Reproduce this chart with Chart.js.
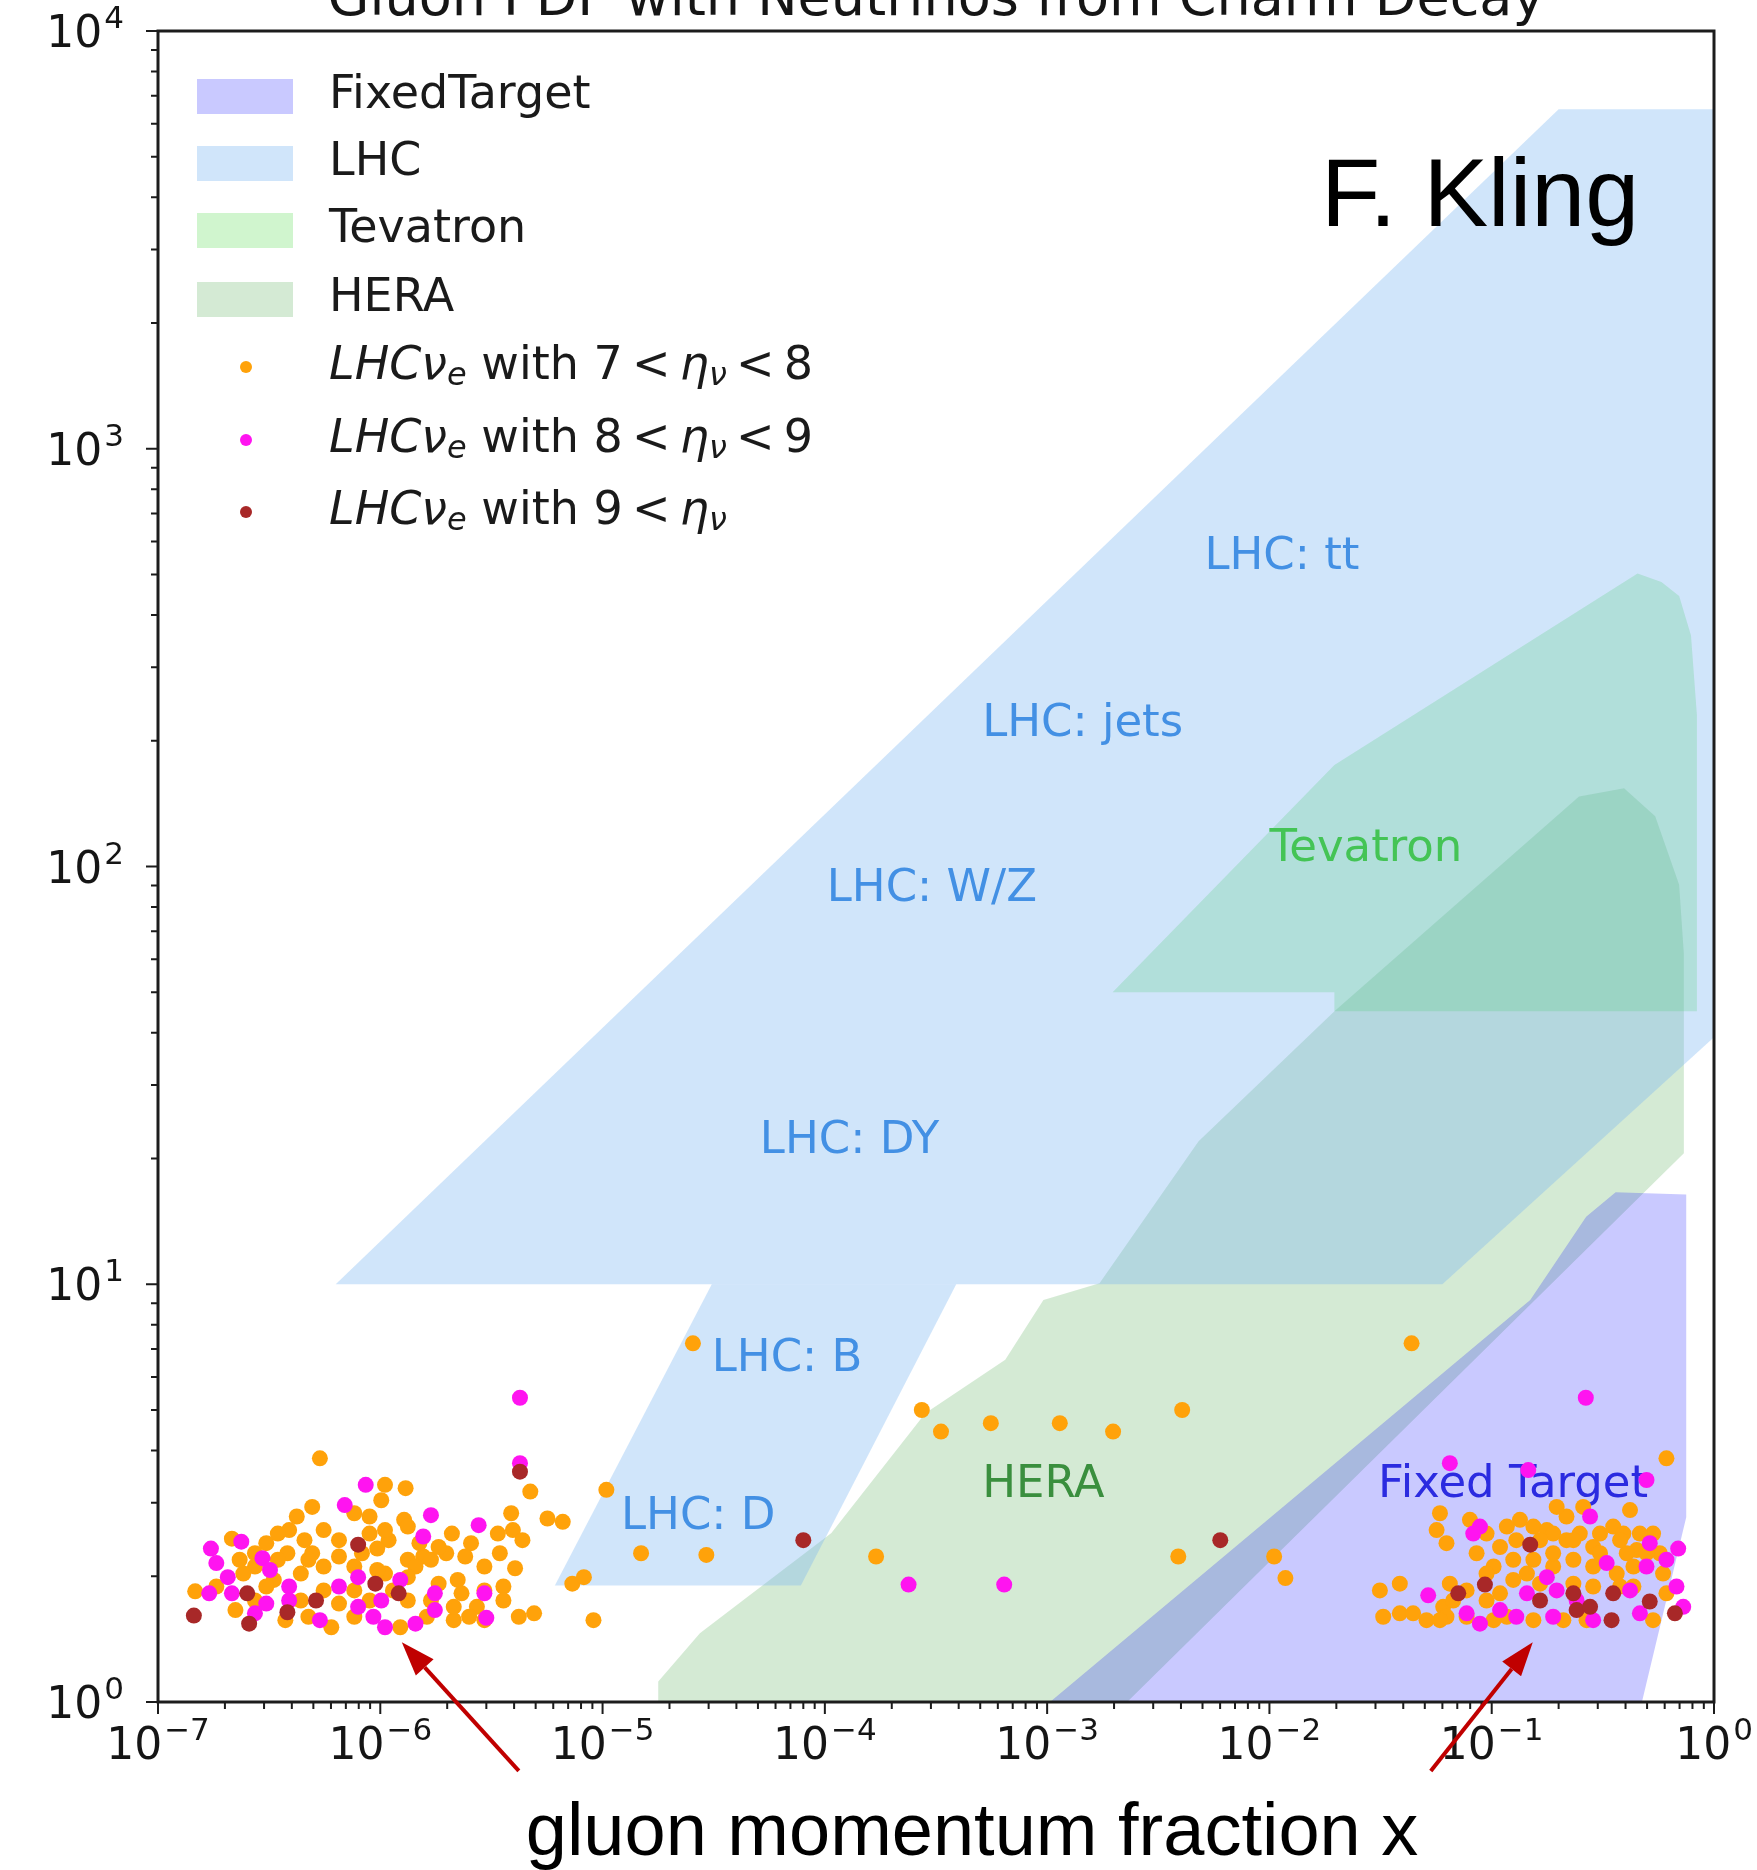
<!DOCTYPE html>
<html>
<head>
<meta charset="utf-8">
<script src="https://cdn.jsdelivr.net/npm/chart.js@4.4.1/dist/chart.umd.min.js"></script>
<style>
  html, body { margin: 0; padding: 0; background: #fff; }
  #wrap { width: 1757px; height: 1870px; position: relative; }
</style>
</head>
<body>
<div id="wrap"><canvas id="pdfChart"></canvas></div>
<script>
// ---- measured regions (x = gluon momentum fraction, y = Q) ----
var fixedTargetX = [1.03e-3, 0.149, 0.266, 0.361, 0.75, 0.75, 0.474];
var fixedTargetY = [1, 9.17, 14.5, 16.6, 16.4, 2.77, 1];

var lhcX = [6.3e-7, 0.06, 1, 1, 0.2];
var lhcY = [10, 10, 39, 6500, 6500];

var lhcHeavyX = [3.1e-5, 3.9e-4, 7.8e-5, 6.1e-6];
var lhcHeavyY = [10, 10, 1.9, 1.9];

var tevatronX = [1.97e-3, 0.0196, 0.453, 0.58, 0.697, 0.788, 0.838, 0.838, 0.0196, 0.0196];
var tevatronY = [50, 175, 503, 480, 444, 357, 230, 45, 45, 50];

var heraX = [1.78e-5, 1.78e-5, 2.74e-5, 4.33e-5, 1.07e-4, 2.83e-4, 6.48e-4, 9.62e-4, 1.72e-3, 4.8e-3, 0.0196, 0.247, 0.394, 0.544, 0.697, 0.732, 0.732, 2.29e-3];
var heraY = [1, 1.12, 1.46, 1.76, 2.54, 4.91, 6.6, 9.17, 10.05, 22, 45, 147, 154, 132, 90.4, 61.7, 20.6, 1];

// ---- neutrino events ----
var eta78X = [5.35e-7, 1.05e-6, 1.30e-6, 1.01e-6, 4.94e-7, 4.21e-7, 7.64e-7, 1.28e-6, 3.89e-7, 2.15e-7,
  3.07e-7, 4.56e-7, 8.95e-7, 1.09e-6, 1.33e-6, 1.56e-6, 2.10e-6, 2.56e-6, 3.38e-6, 3.88e-6,
  3.95e-6, 4.73e-6, 5.65e-6, 6.62e-6, 1.04e-5, 2.55e-5, 1.49e-5, 2.93e-5, 4.04e-6, 7.31e-6,
  8.24e-6, 1.47e-7, 2.73e-7, 3.32e-7, 4.39e-7, 5.56e-7, 6.52e-7, 8.27e-7, 9.69e-7, 1.69e-6,
  1.98e-6, 2.23e-6, 2.32e-6, 2.94e-6, 4.20e-6, 4.92e-6, 9.10e-6, 6.02e-7, 7.64e-7, 1.23e-6,
  1.62e-6, 2.14e-6, 2.72e-6, 2.73e-7, 2.23e-7, 4.39e-7, 1.14e-6, 6.52e-7, 8.95e-7, 3.82e-7,
  1.33e-6, 4.94e-7, 1.33e-6, 1.83e-6, 3.58e-6, 2.42e-7, 7.64e-7, 1.05e-6, 1.44e-6,
  3.46e-7, 5.56e-7, 6.52e-7, 8.95e-7, 1.05e-6, 1.50e-6, 1.83e-6, 2.41e-6, 2.94e-6, 3.45e-6,
  4.36e-6, 2.73e-7, 3.46e-7, 4.75e-7, 5.56e-7, 7.64e-7, 9.69e-7, 1.33e-6, 1.69e-6, 2.14e-6,
  2.51e-6, 2.94e-6, 3.58e-6, 3.74e-7, 4.75e-7, 3.07e-7, 1.83e-7, 2.33e-7,
  2.73e-4, 3.33e-4, 5.58e-4, 1.14e-3, 1.98e-3, 4.05e-3, 1.70e-4, 3.89e-3, 1.05e-2, 1.18e-2,
  0.0436, 0.611, 0.0585, 0.0565, 0.0626, 0.0798, 0.0855, 0.109, 0.134, 0.125,
  0.154, 0.177, 0.217, 0.217, 0.249, 0.286, 0.352, 0.391, 0.419, 0.449,
  0.532, 0.0314, 0.0386, 0.0325, 0.0386, 0.0443, 0.0509, 0.0605, 0.0771, 0.0948,
  0.109, 0.125, 0.154, 0.189, 0.233, 0.286, 0.365, 0.405, 0.590, 0.117,
  0.210, 0.267, 0.570, 0.165, 0.0771, 0.258, 0.196, 0.189, 0.307, 0.434,
  0.129, 0.102, 0.0626,
  0.0948, 0.117, 0.165, 0.189, 0.233, 0.307, 0.378, 0.464, 0.497, 0.144,
  0.0948, 0.0648, 0.233, 0.286, 0.378, 0.434, 0.611, 0.532, 0.154, 0.102,
  0.0671, 0.0585];
var eta78Y = [3.83, 3.31, 3.25, 3.04, 2.93, 2.78, 2.83, 2.73, 2.58, 2.46,
  2.40, 2.44, 2.53, 2.44, 2.63, 2.23, 2.53, 2.40, 2.53, 2.83,
  2.58, 3.19, 2.75, 2.70, 3.22, 7.22, 2.27, 2.25, 2.09, 1.92,
  1.99, 1.84, 2.11, 1.96, 2.03, 2.11, 2.23, 2.27, 2.33, 2.19,
  2.27, 1.96, 1.82, 1.85, 1.60, 1.63, 1.57, 1.51, 1.60, 1.51,
  1.60, 1.57, 1.69, 1.75, 1.66, 1.75, 1.85, 1.72, 1.75, 2.27,
  2.19, 2.27, 1.75, 1.92, 1.89, 2.03, 2.11, 2.03, 2.11,
  2.53, 2.58, 2.44, 2.78, 2.58, 2.40, 2.35, 2.23, 2.11, 2.27,
  2.44, 2.27, 2.19, 2.19, 1.85, 1.85, 2.07, 1.99, 1.75, 1.69,
  1.60, 1.57, 1.75, 1.57, 1.60, 1.89, 1.89, 2.19,
  5.00, 4.44, 4.65, 4.65, 4.44, 5.00, 2.23, 2.23, 2.23, 1.98,
  7.22, 3.83, 2.83, 2.58, 2.40, 2.73, 2.27, 2.35, 2.73, 2.19,
  2.63, 2.58, 2.78, 2.44, 2.53, 2.35, 2.63, 2.53, 2.88, 2.31,
  2.53, 1.85, 1.92, 1.60, 1.63, 1.63, 1.57, 1.69, 1.85, 1.75,
  1.82, 1.96, 2.19, 2.11, 2.19, 2.11, 2.03, 2.27, 2.03, 1.60,
  1.57, 1.57, 2.27, 1.92, 1.60, 2.93, 2.93, 2.53, 2.53, 1.89,
  2.44, 2.11, 1.60,
  2.53, 2.63, 2.44, 2.27, 2.44, 2.27, 2.44, 2.53, 2.27, 2.03,
  2.03, 1.92, 1.92, 1.89, 1.89, 2.11, 1.82, 1.57, 1.57, 1.57,
  1.75, 1.57];

var eta89X = [4.25e-6, 4.25e-6, 8.60e-7, 6.92e-7, 1.69e-6, 2.77e-6, 1.56e-6, 1.73e-7, 2.37e-7, 1.83e-7,
  2.06e-7, 2.95e-7, 3.19e-7, 1.70e-7, 2.15e-7, 2.73e-7, 3.07e-7, 3.89e-7, 3.89e-7, 5.35e-7,
  6.52e-7, 7.95e-7, 7.95e-7, 9.31e-7, 1.01e-6, 1.23e-6, 1.44e-6, 1.76e-6, 1.76e-6, 2.94e-6,
  3.00e-6, 1.05e-6, 2.38e-4, 6.41e-4,
  0.265, 0.0648, 0.146, 0.497, 0.277, 0.0885, 0.0826, 0.514, 0.690, 0.329,
  0.497, 0.177, 0.196, 0.144, 0.0518, 0.0771, 0.0885, 0.129, 0.189, 0.286,
  0.464, 0.678, 0.727, 0.241, 0.419, 0.611, 0.109];
var eta89Y = [5.35, 3.73, 3.31, 2.96, 2.80, 2.65, 2.49, 2.33, 2.42, 2.15,
  1.99, 2.21, 2.07, 1.82, 1.82, 1.63, 1.72, 1.89, 1.75, 1.57,
  1.89, 1.99, 1.69, 1.60, 1.75, 1.96, 1.54, 1.82, 1.66, 1.82,
  1.59, 1.51, 1.91, 1.91,
  5.35, 3.73, 3.59, 3.40, 2.78, 2.63, 2.53, 2.40, 2.33, 2.15,
  2.11, 1.99, 1.85, 1.82, 1.80, 1.63, 1.54, 1.60, 1.60, 1.57,
  1.63, 1.89, 1.69, 1.75, 1.85, 2.19, 1.66];

var eta9X = [4.25e-6, 7.95e-7, 9.50e-7, 1.21e-6, 5.14e-7, 2.52e-7, 3.82e-7, 2.57e-7, 1.45e-7,
  8.0e-5, 6.01e-3,
  0.149, 0.0707, 0.0932, 0.165, 0.233, 0.241, 0.352, 0.346, 0.514, 0.667, 0.277];
var eta9Y = [3.56, 2.38, 1.92, 1.82, 1.75, 1.82, 1.64, 1.54, 1.61,
  2.44, 2.44,
  2.38, 1.82, 1.91, 1.75, 1.82, 1.66, 1.82, 1.57, 1.74, 1.63, 1.69];

// ---- axis ticks ----
var xTickValues = [1e-7, 1e-6, 1e-5, 1e-4, 1e-3, 1e-2, 1e-1, 1];
var xTickSup = ['\u22127', '\u22126', '\u22125', '\u22124', '\u22123', '\u22122', '\u22121', '0'];
var yTickValues = [1, 10, 100, 1000, 10000];
var yTickSup = ['0', '1', '2', '3', '4'];
var minorSteps = [2, 3, 4, 5, 6, 7, 8, 9];

var FT_COL = 'rgba(0,0,255,0.21)';
var LHC_COL = 'rgba(120,180,240,0.35)';
var TEV_COL = 'rgba(40,210,30,0.22)';
var HERA_COL = 'rgba(0,128,0,0.17)';
var ORANGE = '#ffa20a', MAGENTA = '#ff14f0', BROWN = '#a82828';

// text placed in the plot, anchored in data units
var notes = [
  {text: 'LHC: tt', x: 5.1e-3, y: 551, color: '#4390e4'},
  {text: 'LHC: jets', x: 5.1e-4, y: 219, color: '#4390e4'},
  {text: 'LHC: W/Z', x: 1.02e-4, y: 88, color: '#4390e4'},
  {text: 'LHC: DY', x: 5.1e-5, y: 22, color: '#4390e4'},
  {text: 'LHC: B', x: 3.1e-5, y: 6.6, color: '#4390e4'},
  {text: 'LHC: D', x: 1.21e-5, y: 2.77, color: '#4390e4'},
  {text: 'Tevatron', x: 0.01, y: 110, color: '#44c455'},
  {text: 'HERA', x: 5.1e-4, y: 3.31, color: '#3a8f3e'},
  {text: 'Fixed Target', x: 0.0308, y: 3.31, color: '#2b2be0'}
];
var arrows = [
  {x0: 4.2e-6, y0: 0.684, x1: 1.25e-6, y1: 1.39},
  {x0: 0.0532, y0: 0.684, x1: 0.153, y1: 1.39}
];

function pts(xs, ys) {
  return xs.map(function (x, i) { return {x: x, y: ys[i]}; });
}
function region(label, xs, ys, color) {
  var d = pts(xs, ys);
  d.push({x: xs[0], y: ys[0]});
  return {type: 'line', label: label, data: d, fill: 'shape', backgroundColor: color,
    borderWidth: 0, borderColor: 'rgba(0,0,0,0)', pointRadius: 0, tension: 0, order: 3};
}
function dots(label, xs, ys, color, order) {
  return {label: label, data: pts(xs, ys), backgroundColor: color, pointRadius: 8,
    pointBorderWidth: 0, borderWidth: 0, order: order};
}

function pow10(ctx, sup, x, y, align) {
  ctx.font = '44px "DejaVu Sans"';
  var wb = ctx.measureText('10').width;
  ctx.font = '31px "DejaVu Sans"';
  var ws = ctx.measureText(sup).width;
  var left = align === 'center' ? x - (wb + ws + 2) / 2 : x - (wb + ws + 2);
  ctx.font = '44px "DejaVu Sans"';
  ctx.fillText('10', left, y);
  ctx.font = '31px "DejaVu Sans"';
  ctx.fillText(sup, left + wb + 2, y - 19);
}

function drawRuns(ctx, runs, x, y) {
  runs.forEach(function (r) {
    var size = r.sub ? 32 : 46;
    ctx.font = (r.it ? 'italic ' : '') + size + 'px "DejaVu Sans"';
    ctx.fillText(r.t, x, r.sub ? y + 10 : y);
    x += ctx.measureText(r.t).width;
  });
}

var decorations = {
  id: 'decorations',
  beforeDatasetDraw: function (chart, args) {
    if (args.index !== 2) return;
    var ctx = chart.ctx, sx = chart.scales.x, sy = chart.scales.y;
    ctx.save();
    ctx.font = '45px "DejaVu Sans"';
    ctx.textBaseline = 'middle';
    notes.forEach(function (n) {
      ctx.fillStyle = n.color;
      ctx.fillText(n.text, sx.getPixelForValue(n.x), sy.getPixelForValue(n.y));
    });
    ctx.restore();
  },
  afterDraw: function (chart) {
    var ctx = chart.ctx, a = chart.chartArea, sx = chart.scales.x, sy = chart.scales.y;
    ctx.save();
    // frame
    ctx.strokeStyle = '#1c1c1c';
    ctx.lineWidth = 3;
    ctx.strokeRect(a.left, a.top, a.right - a.left, a.bottom - a.top);

    // ticks
    ctx.lineWidth = 2;
    ctx.beginPath();
    xTickValues.forEach(function (v, i) {
      var p = sx.getPixelForValue(v);
      ctx.moveTo(p, a.bottom); ctx.lineTo(p, a.bottom + 12);
      if (i < xTickValues.length - 1) minorSteps.forEach(function (m) {
        var q = sx.getPixelForValue(v * m);
        ctx.moveTo(q, a.bottom); ctx.lineTo(q, a.bottom + 7);
      });
    });
    yTickValues.forEach(function (v, i) {
      var p = sy.getPixelForValue(v);
      ctx.moveTo(a.left, p); ctx.lineTo(a.left - 12, p);
      if (i < yTickValues.length - 1) minorSteps.forEach(function (m) {
        var q = sy.getPixelForValue(v * m);
        ctx.moveTo(a.left, q); ctx.lineTo(a.left - 7, q);
      });
    });
    ctx.stroke();

    // tick labels
    ctx.fillStyle = '#151515';
    ctx.textBaseline = 'alphabetic';
    ctx.textAlign = 'left';
    xTickValues.forEach(function (v, i) {
      pow10(ctx, xTickSup[i], sx.getPixelForValue(v), a.bottom + 57, 'center');
    });
    yTickValues.forEach(function (v, i) {
      pow10(ctx, yTickSup[i], a.left - 34, sy.getPixelForValue(v) + 16, 'right');
    });

    // title (cut by the top edge) and other text
    ctx.textAlign = 'center';
    ctx.font = '54px "DejaVu Sans"';
    ctx.fillText('Gluon PDF with Neutrinos from Charm Decay', 936, 15);
    ctx.fillStyle = '#000';
    ctx.font = '74px "Liberation Sans"';
    ctx.fillText('gluon momentum fraction x', 972, 1855);
    ctx.textAlign = 'left';
    ctx.font = '97px "Liberation Sans"';
    ctx.fillText('F. Kling', 1321, 226);

    // legend
    var patches = [['FixedTarget', FT_COL, 96], ['LHC', LHC_COL, 163], ['Tevatron', TEV_COL, 230], ['HERA', HERA_COL, 299]];
    ctx.textBaseline = 'middle';
    patches.forEach(function (p) {
      ctx.fillStyle = p[1];
      ctx.fillRect(197, p[2] - 17, 96, 35);
      ctx.fillStyle = '#1a1a1a';
      ctx.font = '46px "DejaVu Sans"';
      ctx.fillText(p[0], 329, p[2]);
    });
    var mathRows = [
      [ORANGE, 367, [{t: 'LHC\u03bd', it: 1}, {t: 'e', it: 1, sub: 1}, {t: ' with 7\u2009<\u2009'}, {t: '\u03b7', it: 1}, {t: '\u03bd', it: 1, sub: 1}, {t: '\u2009<\u20098'}]],
      [MAGENTA, 440, [{t: 'LHC\u03bd', it: 1}, {t: 'e', it: 1, sub: 1}, {t: ' with 8\u2009<\u2009'}, {t: '\u03b7', it: 1}, {t: '\u03bd', it: 1, sub: 1}, {t: '\u2009<\u20099'}]],
      [BROWN, 512, [{t: 'LHC\u03bd', it: 1}, {t: 'e', it: 1, sub: 1}, {t: ' with 9\u2009<\u2009'}, {t: '\u03b7', it: 1}, {t: '\u03bd', it: 1, sub: 1}]]
    ];
    mathRows.forEach(function (r) {
      ctx.fillStyle = r[0];
      ctx.beginPath();
      ctx.arc(246, r[1], 6, 0, Math.PI * 2);
      ctx.fill();
      ctx.fillStyle = '#1a1a1a';
      drawRuns(ctx, r[2], 329, r[1]);
    });

    // red arrows
    ctx.strokeStyle = '#c00000';
    ctx.fillStyle = '#c00000';
    ctx.lineWidth = 4;
    arrows.forEach(function (ar) {
      var x0 = sx.getPixelForValue(ar.x0), y0 = sy.getPixelForValue(ar.y0);
      var x1 = sx.getPixelForValue(ar.x1), y1 = sy.getPixelForValue(ar.y1);
      var ang = Math.atan2(y1 - y0, x1 - x0), L = 34, W = 12;
      var bx = x1 - L * Math.cos(ang), by = y1 - L * Math.sin(ang);
      ctx.beginPath();
      ctx.moveTo(x0, y0); ctx.lineTo(bx, by);
      ctx.stroke();
      ctx.beginPath();
      ctx.moveTo(x1, y1);
      ctx.lineTo(bx + W * Math.sin(ang), by - W * Math.cos(ang));
      ctx.lineTo(bx - W * Math.sin(ang), by + W * Math.cos(ang));
      ctx.closePath();
      ctx.fill();
    });
    ctx.restore();
  }
};

var chart = new Chart(document.getElementById('pdfChart'), {
  type: 'scatter',
  data: {
    datasets: [
      dots('LHCve with 9 < eta', eta9X, eta9Y, BROWN, 0),
      dots('LHCve with 8 < eta < 9', eta89X, eta89Y, MAGENTA, 1),
      dots('LHCve with 7 < eta < 8', eta78X, eta78Y, ORANGE, 2),
      region('FixedTarget', fixedTargetX, fixedTargetY, FT_COL),
      region('LHC', lhcX, lhcY, LHC_COL),
      region('LHC heavy flavour', lhcHeavyX, lhcHeavyY, LHC_COL),
      region('Tevatron', tevatronX, tevatronY, TEV_COL),
      region('HERA', heraX, heraY, HERA_COL)
    ]
  },
  options: {
    responsive: true,
    maintainAspectRatio: false,
    animation: false,
    events: [],
    layout: {padding: {left: 158, right: 43, top: 31, bottom: 168}},
    plugins: {legend: {display: false}, tooltip: {enabled: false}},
    scales: {
      x: {type: 'logarithmic', min: 1e-7, max: 1, display: false},
      y: {type: 'logarithmic', min: 1, max: 10000, display: false}
    }
  },
  plugins: [decorations]
});
</script>
</body>
</html>
